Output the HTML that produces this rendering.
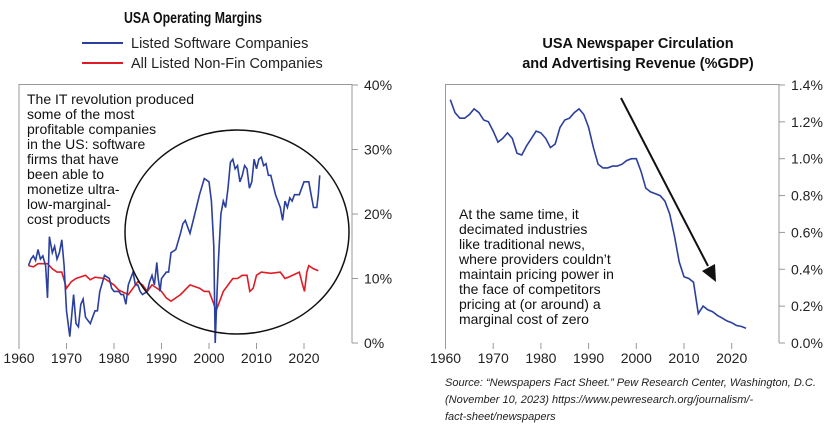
<!DOCTYPE html>
<html><head><meta charset="utf-8"><style>
body{margin:0;background:#fff;}
svg{display:block;font-family:"Liberation Sans",sans-serif;}
</style></head><body>
<svg id="s" width="840" height="434" viewBox="0 0 840 434">
<text x="193" y="23" text-anchor="middle" font-size="15.5" font-weight="bold" fill="#111" textLength="138" lengthAdjust="spacingAndGlyphs">USA Operating Margins</text>
<line x1="82" y1="43" x2="123" y2="43" stroke="#2b3f9e" stroke-width="2"/>
<text x="131" y="48" font-size="14.5" fill="#222">Listed Software Companies</text>
<line x1="82" y1="63" x2="123" y2="63" stroke="#e01b24" stroke-width="2"/>
<text x="131" y="68" font-size="14.5" fill="#222">All Listed Non-Fin Companies</text>
<text x="638" y="48" text-anchor="middle" font-size="14.5" font-weight="bold" fill="#111">USA Newspaper Circulation</text>
<text x="638" y="68" text-anchor="middle" font-size="14.5" font-weight="bold" fill="#111">and Advertising Revenue (%GDP)</text>
<g stroke="#999" stroke-width="1" fill="none">
<path d="M19,343 V84.5 H352 V343"/>
<path d="M445.5,343 V84.5 H779 V343"/>
</g>
<g id="ticks" stroke="#999"></g>
<g id="labels" font-size="14" fill="#222"></g>
<text font-size="14" fill="#111"><tspan x="27" y="104">The IT revolution produced</tspan><tspan x="27" y="119">some of the most</tspan><tspan x="27" y="134">profitable companies</tspan><tspan x="27" y="149">in the US: software</tspan><tspan x="27" y="164">firms that have</tspan><tspan x="27" y="179">been able to</tspan><tspan x="27" y="194">monetize ultra-</tspan><tspan x="27" y="209">low-marginal-</tspan><tspan x="27" y="224">cost products</tspan></text>
<text font-size="14" fill="#111"><tspan x="459" y="219">At the same time, it</tspan><tspan x="459" y="234">decimated industries</tspan><tspan x="459" y="249">like traditional news,</tspan><tspan x="459" y="264">where providers couldn’t</tspan><tspan x="459" y="279">maintain pricing power in</tspan><tspan x="459" y="294">the face of competitors</tspan><tspan x="459" y="309">pricing at (or around) a</tspan><tspan x="459" y="324">marginal cost of zero</tspan></text>
<path id="red" fill="none" stroke="#e01b24" stroke-width="1.6"/>
<path id="blue" fill="none" stroke="#2b3f9e" stroke-width="1.6"/>
<path id="news" fill="none" stroke="#2b3f9e" stroke-width="1.6"/>
<ellipse cx="237" cy="232" rx="112" ry="102" fill="none" stroke="#111" stroke-width="1.5"/>
<line x1="621" y1="98" x2="708" y2="266" stroke="#111" stroke-width="2"/>
<polygon points="716,282 702,271 715,264" fill="#111"/>
<text font-size="11" font-style="italic" fill="#222"><tspan x="445" y="386">Source: “Newspapers Fact Sheet.” Pew Research Center, Washington, D.C.</tspan><tspan x="445" y="403">(November 10, 2023) https://www.pewresearch.org/journalism/-</tspan><tspan x="445" y="420">fact-sheet/newspapers</tspan></text>
</svg>
<script>
var L={x:function(y){return 19+(y-1960)*4.75},y:function(v){return 343-v*6.45}};
var R={x:function(y){return 445.5+(y-1960)*4.77},y:function(v){return 343-v*184.3}};
function P(d,m){return d.map(function(p,i){return(i?'L':'M')+m.x(p[0]).toFixed(1)+','+m.y(p[1]).toFixed(1)}).join(' ')}
var blue=[[1962,12],[1962.5,13],[1963,13.5],[1963.5,12.8],[1964,14.5],[1964.5,13],[1965,13.5],[1965.6,12],[1966,7],[1966.4,16.5],[1967,14],[1967.5,15],[1968,13],[1968.5,14],[1969,16],[1969.5,12],[1970,5],[1970.7,1],[1971.5,7.5],[1972,3],[1972.5,2.5],[1973,6],[1973.5,6.8],[1974,4],[1975,3],[1975.5,4],[1976,5],[1976.5,5],[1977,8],[1978,10.5],[1979,10],[1979.5,8.5],[1980,8],[1981,8],[1981.5,7.5],[1982,7.5],[1982.5,6],[1983,9],[1984,11],[1984.5,9],[1985,9],[1985.5,8],[1986,7.5],[1987,8],[1987.5,9.5],[1988,10.5],[1988.5,9],[1989,12.5],[1989.3,10],[1989.7,8],[1990,10],[1991,11],[1991.5,11],[1992,14],[1993,14.5],[1994,17],[1994.5,18.5],[1995,19],[1995.5,18],[1996,17],[1997,20],[1998,23],[1999,25.5],[2000,25],[2000.5,22],[2001,15],[2001.3,0],[2001.7,8],[2002,13],[2002.5,20],[2003,22],[2003.5,21],[2004,24],[2004.5,28],[2005,28.5],[2005.5,27],[2006,27.5],[2006.5,25],[2007,26],[2007.5,27.5],[2008,27],[2008.5,24],[2009,25],[2009.5,28.5],[2010,27],[2010.5,28.5],[2011,28.8],[2011.5,27.5],[2012,27.8],[2012.5,26],[2013,26],[2014,23],[2015,21],[2015.5,19],[2016,22],[2016.5,21],[2017,22.5],[2017.5,22],[2018,23],[2019,23],[2020,25],[2021,25],[2021.5,23],[2022,21],[2022.7,21],[2023,23],[2023.3,26]];
var red=[[1962,12],[1963,11.8],[1964,12.3],[1966,12.3],[1967,11.5],[1968,11],[1969,11],[1970,8.5],[1971,9.5],[1972,10],[1974,10.5],[1975,9.8],[1976,10.2],[1978,10],[1980,9],[1981,8.2],[1983,7.5],[1985,9.5],[1986,9],[1987,8],[1988,9],[1990,8],[1991,7],[1992,6.5],[1994,7.5],[1996,9],[1998,8.5],[1999,8],[2000,8],[2000.8,6.5],[2001.5,5],[2002.5,7],[2003,8],[2005,10],[2006,10],[2007,10.5],[2008,10.5],[2008.6,8],[2009.3,8.5],[2010,10.5],[2011,11],[2013,10.8],[2015,11],[2016,10],[2017,10.3],[2019,11],[2019.7,9],[2020.1,8],[2020.6,11],[2021,12],[2022,11.5],[2023,11.2]];
var nw=[[1961,1.32],[1962,1.25],[1963,1.22],[1964,1.22],[1965,1.24],[1966,1.27],[1967,1.25],[1968,1.21],[1969,1.2],[1970,1.15],[1971,1.09],[1972,1.11],[1973,1.14],[1974,1.11],[1975,1.03],[1976,1.02],[1977,1.07],[1978,1.11],[1979,1.15],[1980,1.14],[1981,1.11],[1982,1.06],[1983,1.08],[1984,1.17],[1985,1.21],[1986,1.22],[1987,1.25],[1988,1.27],[1989,1.24],[1990,1.17],[1991,1.06],[1992,0.97],[1993,0.95],[1994,0.95],[1995,0.96],[1996,0.96],[1997,0.97],[1998,0.99],[1999,1.0],[2000,1.0],[2001,0.93],[2002,0.84],[2003,0.82],[2004,0.81],[2005,0.8],[2006,0.77],[2007,0.7],[2008,0.58],[2009,0.44],[2010,0.36],[2011,0.35],[2012,0.33],[2013,0.16],[2014,0.2],[2015,0.18],[2016,0.17],[2017,0.15],[2018,0.135],[2019,0.12],[2020,0.11],[2021,0.095],[2022,0.09],[2023,0.08]];
document.getElementById('blue').setAttribute('d',P(blue,L));
document.getElementById('red').setAttribute('d',P(red,L));
document.getElementById('news').setAttribute('d',P(nw,R));
var t='',l='';
for(var i=0;i<=4;i++){var y=L.y(i*10);t+='<line x1="352" x2="358" y1="'+y+'" y2="'+y+'"/>';l+='<text x="364" y="'+(y+5)+'">'+(i*10)+'%</text>';}
for(var i=0;i<=7;i++){var v=i*0.2,y=R.y(v);t+='<line x1="779" x2="785" y1="'+y+'" y2="'+y+'"/>';l+='<text x="791" y="'+(y+5)+'">'+v.toFixed(1)+'%</text>';}
for(var yr=1960;yr<=2020;yr+=10){var x=L.x(yr);t+='<line x1="'+x+'" x2="'+x+'" y1="343" y2="349"/>';l+='<text x="'+x+'" y="363" text-anchor="middle">'+yr+'</text>';
x=R.x(yr);t+='<line x1="'+x+'" x2="'+x+'" y1="343" y2="349"/>';l+='<text x="'+x+'" y="363" text-anchor="middle">'+yr+'</text>';}
document.getElementById('ticks').innerHTML=t;document.getElementById('labels').innerHTML=l;
</script>
</body></html>
